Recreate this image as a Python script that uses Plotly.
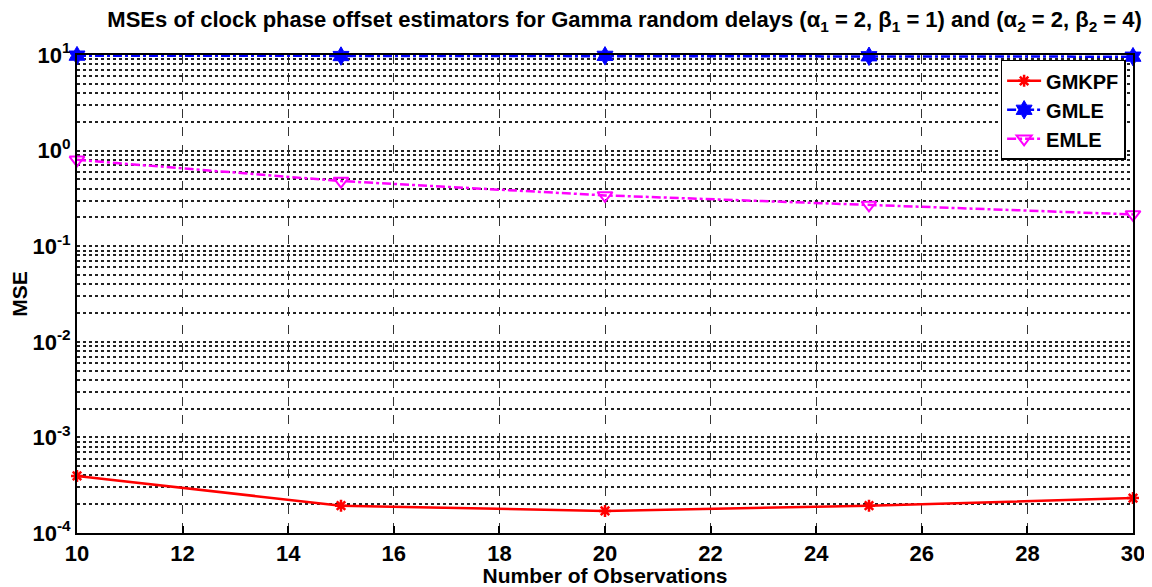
import plotly.graph_objects as go

observations = [10, 15, 20, 25, 30]
mse_gmkpf = [3.95e-4, 1.93e-4, 1.70e-4, 1.93e-4, 2.32e-4]
mse_gmle = [9.85, 9.75, 9.8, 9.7, 9.6]
mse_emle = [0.80, 0.48, 0.34, 0.27, 0.215]

x_ticks = list(range(10, 31, 2))
decades = [-4, -3, -2, -1, 0, 1]

y_tickvals = []
y_ticktext = []
for d in decades:
    for m in range(1, 10):
        if d == 1 and m > 1:
            break
        y_tickvals.append(m * 10.0 ** d)
        y_ticktext.append(f"<b>10<sup>{d}</sup></b>" if m == 1 else "")

fig = go.Figure()
fig.add_trace(go.Scatter(
    x=observations, y=mse_gmkpf, name="<b>GMKPF</b>", mode="lines+markers", cliponaxis=False,
    line=dict(color="#ff0000", width=2.5, dash="solid"),
    marker=dict(symbol="asterisk-open", size=10, color="#ff0000", line=dict(color="#ff0000", width=2.5)),
))
fig.add_trace(go.Scatter(
    x=observations, y=mse_gmle, name="<b>GMLE</b>", mode="lines+markers", cliponaxis=False,
    line=dict(color="#0000ff", width=2.5, dash="dashdot"),
    marker=dict(symbol="hexagram", size=14, color="#0000ff", line=dict(color="#0000ff", width=1)),
))
fig.add_trace(go.Scatter(
    x=observations, y=mse_emle, name="<b>EMLE</b>", mode="lines+markers", cliponaxis=False,
    line=dict(color="#ff00ff", width=2.5, dash="dashdot"),
    marker=dict(symbol="triangle-down-open", size=13, color="#ff00ff", line=dict(color="#ff00ff", width=2)),
))

font_family = "Liberation Sans, Arial, sans-serif"

fig.update_layout(
    width=1144, height=579,
    margin=dict(l=69, r=19, t=47, b=54, autoexpand=False),
    paper_bgcolor="white", plot_bgcolor="white",
    font=dict(family=font_family, color="black"),
    title=dict(
        text="<b>MSEs of clock phase offset estimators for Gamma random delays (α<sub>1</sub> = 2, β<sub>1</sub> = 1) and (α<sub>2</sub> = 2, β<sub>2</sub> = 4)</b>",
        x=0.539, xanchor="center", y=0.993, yanchor="top",
        font=dict(size=22, family=font_family, color="black"),
    ),
    showlegend=True,
    legend=dict(
        x=0.993, xanchor="right", y=0.99, yanchor="top",
        bgcolor="white", bordercolor="black", borderwidth=1.5,
        font=dict(size=20, family=font_family, color="black"),
        itemwidth=34, tracegroupgap=0,
    ),
)

fig.update_xaxes(
    range=[10, 30], tickvals=x_ticks, ticktext=[f"<b>{v}</b>" for v in x_ticks],
    ticks="inside", ticklen=7, tickwidth=1.5, tickcolor="black",
    showline=True, linecolor="black", linewidth=2, mirror=True,
    showgrid=True, gridcolor="#333333", griddash="dash", gridwidth=1,
    tickfont=dict(size=22, family=font_family, color="black"),
    title=dict(text="<b>Number of Observations</b>", font=dict(size=21, family=font_family, color="black"), standoff=0),
    zeroline=False, automargin=False,
)
fig.update_yaxes(
    type="log", range=[-4, 1],
    tickvals=y_tickvals, ticktext=y_ticktext,
    ticks="", showline=True, linecolor="black", linewidth=2, mirror=True,
    showgrid=True, gridcolor="#222222", griddash="dot", gridwidth=1.5,
    tickfont=dict(size=22, family=font_family, color="black"),
    title=dict(text="<b>MSE</b>", font=dict(size=21, family=font_family, color="black"), standoff=6),
    zeroline=False, automargin=False,
)

fig.write_html("out.html")
